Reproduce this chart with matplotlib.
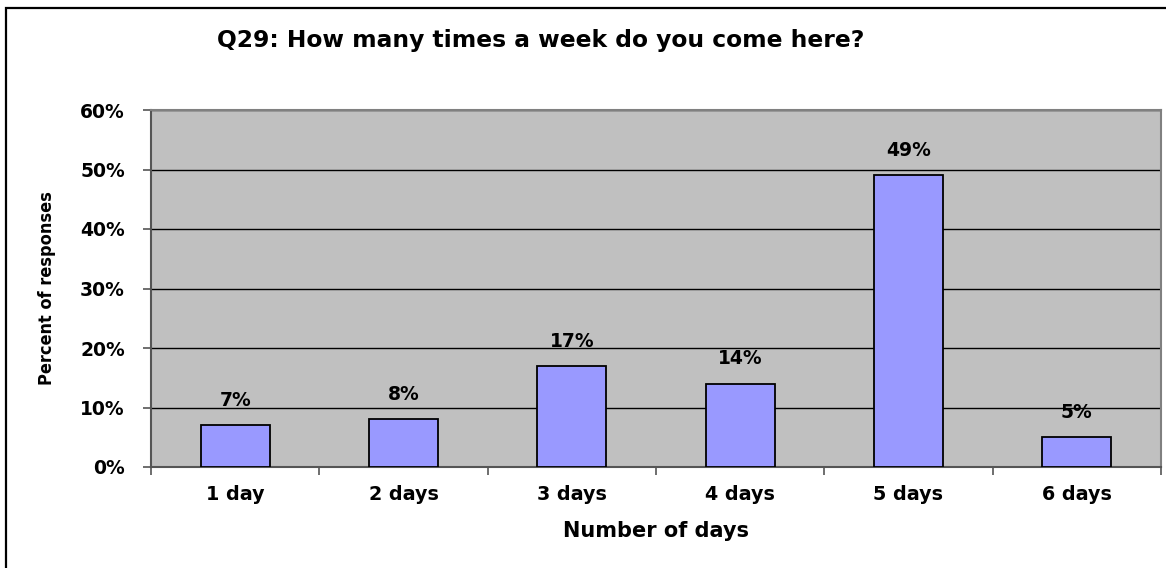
import matplotlib
matplotlib.use("Agg")
import matplotlib.pyplot as plt
from matplotlib.patches import Rectangle
from matplotlib.ticker import FixedLocator

categories = ["1 day", "2 days", "3 days", "4 days", "5 days", "6 days"]
percents = [7, 8, 17, 14, 49, 5]
y_ticks = [0, 10, 20, 30, 40, 50, 60]

plt.rcParams["font.family"] = ["DejaVu Sans"]

W, H = 1166, 568
fig = plt.figure(figsize=(W / 100, H / 100), dpi=100)

# outer chart frame (runs off the right and bottom edges)
fig.patches.append(Rectangle((6 / W, -0.05), 1.1, (H - 8) / H + 0.05,
                             transform=fig.transFigure, fill=False,
                             edgecolor="black", linewidth=1.6))

ax = fig.add_axes([151 / W, 1 - 467 / H, (1161 - 151) / W, (467 - 110) / H])
ax.set_facecolor("#c0c0c0")

x = list(range(len(categories)))
ax.bar(x, percents, width=0.41, color="#9999ff", edgecolor="black",
       linewidth=1.3, zorder=3)
for xi, v in zip(x, percents):
    ax.annotate(f"{v}%", (xi, v), xytext=(0, 11), textcoords="offset points",
                ha="center", va="bottom", fontsize=13.5, fontweight="bold")

ax.set_xlim(-0.5, len(categories) - 0.5)
ax.set_ylim(0, 60)
ax.set_yticks(y_ticks)
ax.set_yticklabels([f"{t}%" for t in y_ticks], fontsize=13.5, fontweight="bold")
ax.yaxis.grid(True, color="black", linewidth=1.0, zorder=1)
ax.set_axisbelow(True)

ax.set_xticks(x)
ax.set_xticklabels(categories, fontsize=13.8, fontweight="bold")
ax.tick_params(axis="x", length=0, pad=13)
ax.xaxis.set_minor_locator(FixedLocator([i + 0.5 for i in range(-1, len(categories))]))
ax.tick_params(axis="x", which="minor", length=5.8, color="#555555", width=1.2)
ax.tick_params(axis="y", length=5.8, color="#555555", width=1.2, pad=13)

for side in ["top", "right"]:
    ax.spines[side].set_color("#808080")
    ax.spines[side].set_linewidth(1.5)
for side in ["left", "bottom"]:
    ax.spines[side].set_color("#555555")
    ax.spines[side].set_linewidth(1.5)

ax.set_xlabel("Number of days", fontsize=15, fontweight="bold", labelpad=12)
ax.set_ylabel("Percent of responses", fontsize=13, fontweight="bold",
              fontstretch="condensed", labelpad=17)

fig.text(541 / W, 1 - 41 / H, "Q29: How many times a week do you come here?",
         ha="center", va="center", fontsize=16.8, fontweight="bold")

fig.savefig("out.png", dpi=100)
